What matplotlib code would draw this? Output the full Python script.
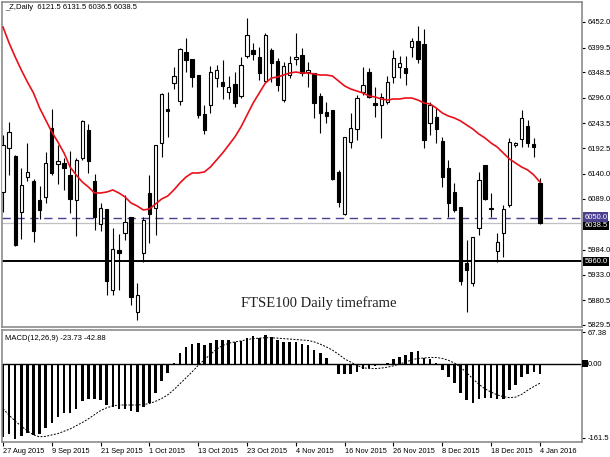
import matplotlib
matplotlib.use("Agg")
import matplotlib.pyplot as plt
import matplotlib.transforms as mtransforms
from matplotlib.patches import Rectangle
import numpy as np

plt.rcParams['font.family'] = ['Liberation Sans', 'DejaVu Sans']

# daily OHLC, 27 Aug 2015 .. 4 Jan 2016
opens = [6102.6, 6193.1, 6176.6, 6061.5, 6133.5, 6125.3, 6086.2, 6092.4, 6234.2, 6160.2,
         6162.2, 6137.6, 6086.2, 6172.5, 6230.1, 6125.3, 6036.9, 6067.7, 5901.2, 5983.5,
         6018.4, 6051.3, 5856.0, 5977.3, 6100.6, 6069.8, 6203.3, 6273.2, 6326.6, 6289.7,
         6390.3, 6375.9, 6343.1, 6262.9, 6281.4, 6336.9, 6328.7, 6308.1, 6324.6, 6299.9,
         6382.1, 6394.5, 6380.1, 6330.7, 6394.5, 6371.8, 6291.7, 6343.1, 6375.9, 6384.2,
         6349.2, 6347.2, 6299.9, 6267.0, 6271.2, 6143.8, 6057.4, 6205.4, 6232.1, 6308.1,
         6349.2, 6285.5, 6281.4, 6287.6, 6339.0, 6359.5, 6357.5, 6400.6, 6412.9, 6406.8,
         6244.5, 6256.8, 6207.4, 6152.0, 6102.6, 6071.8, 5956.7, 5915.6, 6028.7, 6158.1,
         6067.7, 5981.4, 6018.4, 6075.9, 6199.2, 6211.6, 6238.3, 6201.3, 6121.5]
highs = [6219.8, 6246.5, 6178.7, 6152.0, 6203.3, 6129.4, 6115.0, 6184.8, 6273.2, 6199.2,
         6172.5, 6186.9, 6172.5, 6250.6, 6242.4, 6139.6, 6080.0, 6067.7, 6028.7, 6016.4,
         6096.5, 6051.3, 5915.6, 6051.3, 6137.6, 6199.2, 6306.1, 6308.1, 6359.5, 6398.6,
         6419.1, 6375.9, 6343.1, 6281.4, 6361.6, 6363.6, 6373.9, 6341.0, 6349.2, 6380.1,
         6460.2, 6408.8, 6400.6, 6429.4, 6398.6, 6378.0, 6369.8, 6382.1, 6429.4, 6398.6,
         6369.8, 6347.2, 6306.1, 6287.6, 6271.2, 6147.9, 6215.7, 6265.0, 6302.0, 6359.5,
         6357.5, 6318.4, 6306.1, 6341.0, 6394.5, 6382.1, 6382.1, 6419.1, 6443.8, 6437.6,
         6287.6, 6275.3, 6215.7, 6168.4, 6121.2, 6071.8, 6004.0, 6010.2, 6143.8, 6158.1,
         6100.6, 6018.4, 6075.9, 6213.6, 6205.4, 6271.2, 6250.6, 6213.6, 6131.5]
lows = [6061.5, 6137.6, 5991.7, 6006.1, 6125.3, 5999.9, 6047.2, 6080.0, 6137.6, 6119.1,
        6106.8, 6059.5, 6012.2, 6168.4, 6141.7, 6024.6, 6022.5, 5891.0, 5891.0, 5901.2,
        6004.0, 5870.4, 5839.6, 5958.8, 5997.8, 6014.3, 6174.6, 6215.7, 6314.3, 6281.4,
        6349.2, 6318.4, 6254.7, 6221.8, 6265.0, 6318.4, 6293.8, 6293.8, 6277.3, 6295.8,
        6378.0, 6373.9, 6332.8, 6328.7, 6328.7, 6310.2, 6287.6, 6336.9, 6363.6, 6341.0,
        6318.4, 6254.7, 6223.9, 6244.5, 6127.3, 6071.8, 6055.4, 6193.1, 6209.5, 6302.0,
        6295.8, 6256.8, 6213.6, 6283.5, 6326.6, 6336.9, 6322.5, 6380.1, 6367.7, 6193.1,
        6219.8, 6203.3, 6112.9, 6051.3, 6061.5, 5911.5, 5856.0, 5909.5, 6014.3, 6086.2,
        6051.3, 5958.8, 5969.1, 6071.8, 6195.1, 6195.1, 6195.1, 6174.6, 6036.5]
closes = [6199.2, 6225.9, 5993.7, 6117.0, 6143.8, 6022.5, 6065.7, 6162.2, 6141.7, 6166.4,
          6152.0, 6088.3, 6168.4, 6248.6, 6166.4, 6051.3, 6069.8, 5919.8, 5985.5, 5977.3,
          6041.0, 5886.9, 5891.0, 6045.1, 6057.4, 6199.2, 6304.0, 6269.1, 6341.0, 6396.5,
          6373.9, 6339.0, 6260.9, 6230.1, 6349.2, 6353.4, 6320.5, 6318.4, 6285.5, 6363.6,
          6425.3, 6386.2, 6347.2, 6425.3, 6367.7, 6322.5, 6361.6, 6367.7, 6380.1, 6347.2,
          6353.4, 6285.5, 6265.0, 6258.8, 6129.4, 6082.1, 6215.7, 6234.2, 6295.8, 6322.5,
          6297.9, 6281.4, 6297.9, 6328.7, 6378.0, 6367.7, 6347.2, 6412.9, 6375.9, 6209.5,
          6281.4, 6232.1, 6133.5, 6080.0, 6065.7, 5919.8, 5942.4, 6010.2, 6127.3, 6088.3,
          6069.8, 5999.9, 6067.7, 6205.4, 6203.3, 6254.7, 6203.3, 6195.1, 6038.5]

# red moving average
ma_line = [6441.7, 6408.8, 6380.1, 6353.4, 6328.7, 6306.1, 6275.3, 6250.6, 6225.9, 6205.4,
           6182.8, 6154.0, 6137.6, 6123.2, 6112.9, 6100.6, 6100.6, 6102.6, 6106.8, 6100.6,
           6092.4, 6080.0, 6073.9, 6065.7, 6067.7, 6078.0, 6088.3, 6094.4, 6106.8, 6121.2,
           6133.5, 6141.7, 6141.7, 6143.8, 6154.0, 6168.4, 6182.8, 6199.2, 6215.7, 6236.2,
           6260.9, 6285.5, 6306.1, 6326.6, 6336.9, 6339.0, 6343.1, 6347.2, 6349.2, 6347.2,
           6347.2, 6345.1, 6343.1, 6343.1, 6341.0, 6330.7, 6320.5, 6314.3, 6310.2, 6306.1,
           6299.9, 6297.9, 6293.8, 6291.7, 6293.8, 6293.8, 6295.8, 6295.8, 6291.7, 6285.5,
           6283.5, 6275.3, 6265.0, 6258.8, 6254.7, 6248.6, 6240.3, 6232.1, 6221.8, 6213.6,
           6203.3, 6195.1, 6182.8, 6170.5, 6162.2, 6154.0, 6147.9, 6137.6, 6123.2]

# MACD(12,26,9) main (histogram) and signal (dotted)
macd_main = [-159, -152, -163, -158, -150, -156, -152, -139, -128, -117,
             -108, -107, -98, -81, -76, -78, -80, -90, -94, -98,
             -98, -103, -105, -95, -85, -64, -38, -20, 2, 23,
             36, 43, 45, 40, 45, 51, 51, 51, 47, 49,
             56, 59, 56, 61, 58, 52, 47, 47, 46, 42,
             40, 30, 22, 13, -4, -22, -23, -23, -18, -11,
             -9, -6, -4, 1, 9, 14, 18, 25, 27, 13,
             9, 1.5, -14, -29, -42, -65, -80, -85, -78, -74,
             -74, -76, -76, -58, -46, -30, -23, -18, -23.73]
macd_signal = [-98, -112, -125, -136, -146, -155, -159, -158, -155, -152,
               -147, -142, -135, -128, -120, -111, -102, -96, -92, -90,
               -90, -90, -90, -89, -87, -82, -76, -68, -57, -44,
               -31, -18, -4, 8, 20, 31, 39, 44, 47, 49,
               52, 54, 55, 56, 56, 55, 54, 53, 52, 51,
               50, 47, 42, 36, 29, 20, 10, 3, -4, -9,
               -11, -11, -10, -8, -5, -1, 3, 8, 11, 12,
               13, 13, 11, 7, 1, -8, -20, -33, -45, -55,
               -62, -68, -72, -74, -73, -67, -58, -50, -42.88]

date_labels = ['27 Aug 2015', '9 Sep 2015', '21 Sep 2015', '1 Oct 2015', '13 Oct 2015',
               '23 Oct 2015', '4 Nov 2015', '16 Nov 2015', '26 Nov 2015', '8 Dec 2015',
               '18 Dec 2015', '4 Jan 2016']
date_bars = [0, 8, 16, 24, 32, 40, 48, 56, 64, 72, 80, 88]
price_ticks = [6452.0, 6399.5, 6348.5, 6296.0, 6243.5, 6192.5, 6140.0, 6089.0,
               5984.0, 5933.0, 5880.5, 5829.5]
macd_ticks = [67.38, 0.0, -161.5]
level_dash = 6050.0
level_bid = 6038.5
level_support = 5960.0

W, H = 610, 457
fig = plt.figure(figsize=(W / 100, H / 100), dpi=100)
fig.patch.set_facecolor('white')

ax = fig.add_axes([2 / W, 1 - 327 / H, 580 / W, 325 / H])
ax2 = fig.add_axes([2 / W, 1 - 442 / H, 580 / W, 112 / H])

frame = '#8c8c8c'
for a in (ax, ax2):
    for s in a.spines.values():
        s.set_color(frame)
        s.set_linewidth(1.2)
    a.set_xlim(-0.164, 94.9)

x = np.arange(len(opens))
o = np.array(opens)
h = np.array(highs)
l = np.array(lows)
c = np.array(closes)
up = c >= o

# levels
ax.axhline(level_bid, color='#c0c0c0', lw=0.9, zorder=1)
ax.axhline(level_dash, color='#4b3f8f', lw=1.0, ls=(0, (6, 4)), zorder=1)
ax.axhline(level_support, color='black', lw=1.4, zorder=1)

# candles
ax.vlines(x, l, h, color='black', lw=0.8, zorder=2)
ax.bar(x[up], np.maximum(c - o, 0.8)[up], bottom=o[up], width=0.55,
       facecolor='white', edgecolor='black', lw=0.8, zorder=3)
ax.bar(x[~up], (o - c)[~up], bottom=c[~up], width=0.55,
       facecolor='black', edgecolor='black', lw=0.8, zorder=3)

ax.plot(x, ma_line, color='#e8101a', lw=1.2, zorder=4)

ax.set_ylim(5825.2, 6493.1)
ax.yaxis.tick_right()
ax.set_yticks(price_ticks)
ax.set_yticklabels(['%.1f' % p for p in price_ticks])
ax.tick_params(axis='y', length=2.5, width=0.8, pad=1.5, labelsize=5.5, colors='black')
ax.set_xticks([])

ax.text(0.005, 0.982, '_Z,Daily  %.1f %.1f %.1f %.1f' % (opens[-1], highs[-1], lows[-1], closes[-1]),
        transform=ax.transAxes, fontsize=5.5, va='center', ha='left')
ax.text(51.8, 5874.5, 'FTSE100 Daily timeframe', family='Liberation Serif',
        fontsize=10.5, color='#202020', ha='center', va='center')

# price boxes on the right scale
tr = mtransforms.blended_transform_factory(ax.transAxes, ax.transData)
ax.text(1.004, level_bid - 4, '%.1f' % level_bid, transform=tr, fontsize=5.5, color='white',
        ha='left', va='center', clip_on=False,
        bbox=dict(boxstyle='square,pad=0.15', fc='black', ec='none'))
ax.text(1.004, level_dash + 1, '%.1f' % level_dash, transform=tr, fontsize=5.5, color='white',
        ha='left', va='center', clip_on=False,
        bbox=dict(boxstyle='square,pad=0.15', fc='#4b3f8f', ec='none'))
ax.text(1.004, level_support, '%.1f' % level_support, transform=tr, fontsize=5.5, color='white',
        ha='left', va='center', clip_on=False,
        bbox=dict(boxstyle='square,pad=0.15', fc='black', ec='none'))

# MACD panel
ax2.axhline(0, color='black', lw=1.0, zorder=1)
ax2.bar(x, macd_main, width=0.42, color='black', zorder=2)
ax2.plot(x, macd_signal, color='black', lw=0.7, ls=(0, (2, 1.5)), zorder=3)
ax2.set_ylim(-170.3, 72.7)
ax2.yaxis.tick_right()
ax2.set_yticks(macd_ticks)
ax2.set_yticklabels(['67.38', '0.00', '-161.5'])
ax2.tick_params(axis='y', length=2.5, width=0.8, pad=1.5, labelsize=5.5)
ax2.set_xticks(date_bars)
ax2.set_xticklabels(date_labels)
for lbl in ax2.get_xticklabels():
    lbl.set_ha('left')
ax2.tick_params(axis='x', length=3, width=0.8, pad=1.5, labelsize=5.3)
ax2.text(0.005, 0.92, 'MACD(12,26,9) %.2f %.2f' % (macd_main[-1], macd_signal[-1]),
         transform=ax2.transAxes, fontsize=5.5, va='center', ha='left')

# small black marker on the zero level of the MACD scale
tr2 = mtransforms.blended_transform_factory(ax2.transAxes, ax2.transData)
ax2.add_patch(Rectangle((1.0, -7.5), 6 / 580, 15, transform=tr2, facecolor='black',
                        edgecolor='none', clip_on=False, zorder=5))

fig.savefig('out.png', dpi=100)
